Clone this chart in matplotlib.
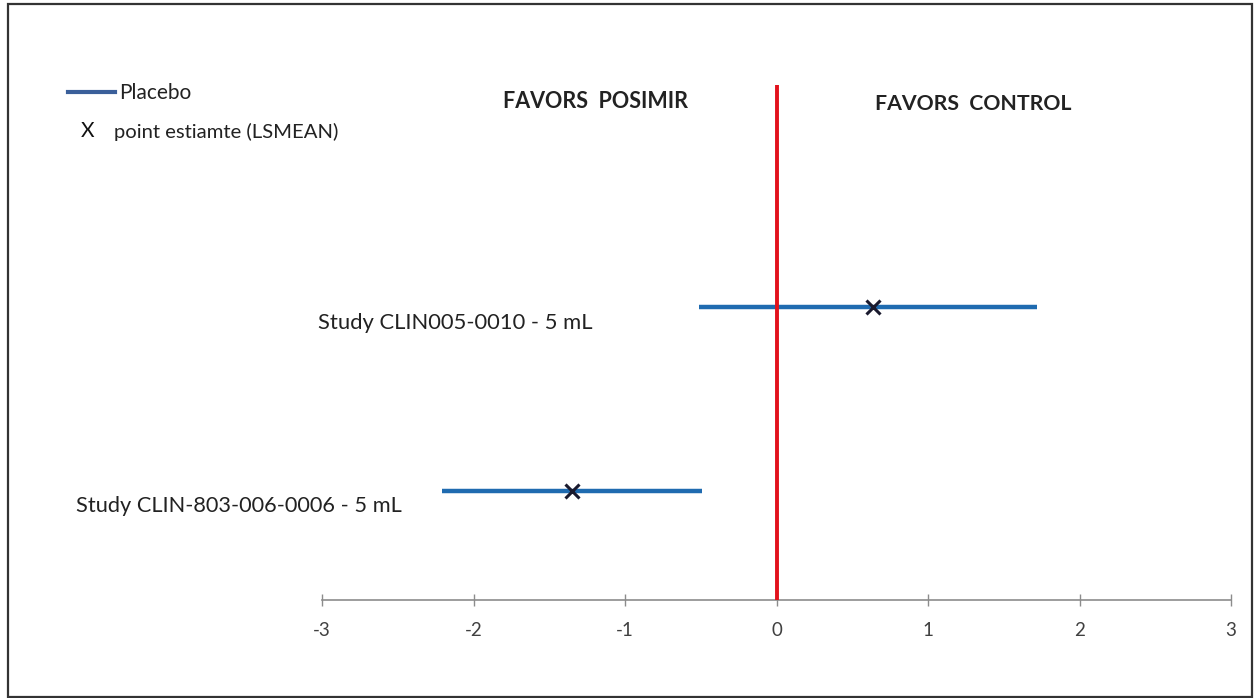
import matplotlib
matplotlib.use("Agg")
import matplotlib.pyplot as plt
from matplotlib.patches import Rectangle

# Data
studies = ["Study CLIN005-0010 - 5 mL", "Study CLIN-803-006-0006 - 5 mL"]
lower = [-0.51, -2.21]
upper = [1.72, -0.49]
lsmean = [0.64, -1.35]
ypos = [2, 1]
xticks = [-3, -2, -1, 0, 1, 2, 3]
legend_labels = ["Placebo", "point estiamte (LSMEAN)"]
region_labels = ["FAVORS  POSIMIR", "FAVORS  CONTROL"]

W, H = 1256, 698
fig = plt.figure(figsize=(W / 100, H / 100), dpi=100)
plt.rcParams['font.family'] = ['Lato', 'DejaVu Sans']

# outer frame
fig.patches.append(Rectangle((8 / W, 1 - 697 / H), (1252 - 8) / W, (697 - 4) / H,
                             transform=fig.transFigure, fill=False,
                             edgecolor='#333333', linewidth=1.6))

left, right = 322 / W, 1231 / W
bottom, top = 1 - 600 / H, 1 - 85 / H
ax = fig.add_axes([left, bottom, right - left, top - bottom])
ax.set_xlim(-3, 3)
ax.set_ylim(0.407, 3.207)

blue = '#1F6BB0'
red = '#E2121C'

for lo, hi, m, y in zip(lower, upper, lsmean, ypos):
    ax.plot([lo, hi], [y, y], color=blue, linewidth=3.2, solid_capstyle='butt', zorder=2)
    ax.plot([m], [y], marker='x', color='#1a1a2e', markersize=10, markeredgewidth=2.2, zorder=4)

ax.axvline(0, color=red, linewidth=2.8, zorder=3)

for s in ['left', 'right', 'top']:
    ax.spines[s].set_visible(False)
ax.spines['bottom'].set_color('#8c8c8c')
ax.spines['bottom'].set_linewidth(1.2)
ax.set_yticks([])
ax.set_xticks(xticks)
ax.set_xticklabels([str(t) for t in xticks])
ax.tick_params(axis='x', direction='inout', length=8, width=1, color='#8c8c8c',
               labelsize=13.5, labelcolor='#404040', pad=12)

# study labels (right edges)
fig.text(593 / W, 1 - 323 / H, studies[0], ha='right', va='center', fontsize=15.8, color='#222222')
fig.text(402 / W, 1 - 506 / H, studies[1], ha='right', va='center', fontsize=15.7, color='#222222')

# region headers
fig.text(503 / W, 1 - 101 / H, region_labels[0], ha='left', va='center', fontsize=15.5,
         fontweight='bold', color='#222222')
fig.text(875 / W, 1 - 104 / H, region_labels[1], ha='left', va='center', fontsize=15.3,
         fontweight='bold', color='#222222')

# legend
fig.add_artist(plt.Line2D([68 / W, 115 / W], [1 - 92 / H, 1 - 92 / H], transform=fig.transFigure,
                          color='#3A5F9A', linewidth=3))
fig.text(119 / W, 1 - 93 / H, legend_labels[0], ha='left', va='center', fontsize=15, color='#222222')
fig.text(88 / W, 1 - 131 / H, "X", ha='center', va='center', fontsize=15, color='#111111')
fig.text(114 / W, 1 - 132 / H, legend_labels[1], ha='left', va='center', fontsize=14.6, color='#222222')

fig.savefig("out.png", dpi=100)
